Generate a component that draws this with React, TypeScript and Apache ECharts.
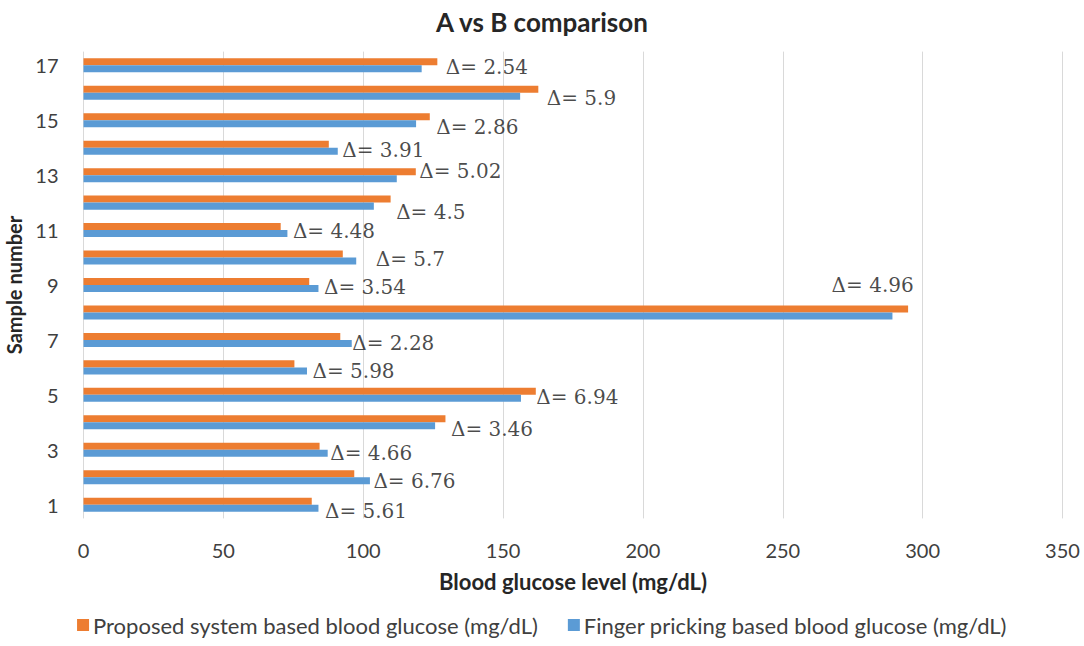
import React, { useEffect, useRef } from "react";
import * as echarts from "echarts";

// Sample numbers 1..17 (bottom to top on the category axis)
const samples = ["1", "2", "3", "4", "5", "6", "7", "8", "9", "10", "11", "12", "13", "14", "15", "16", "17"];

// Proposed system readings (mg/dL)
const proposed = [81.6, 96.8, 84.4, 129.4, 161.7, 75.4, 91.8, 294.8, 80.7, 92.7, 70.5, 109.8, 118.8, 87.7, 123.8, 162.6, 126.5];

// Finger pricking readings (mg/dL)
const finger = [84.0, 102.4, 87.3, 125.7, 156.4, 79.9, 95.9, 289.2, 84.0, 97.5, 72.9, 103.8, 112.0, 90.9, 118.9, 156.1, 120.9];

// Per-sample difference annotations
const deltas = ["5.61", "6.76", "4.66", "3.46", "6.94", "5.98", "2.28", "4.96", "3.54", "5.7", "4.48", "4.5", "5.02", "3.91", "2.86", "5.9", "2.54"];

// Value axis ticks
const xTicks = [0, 50, 100, 150, 200, 250, 300, 350];

// Small pixel nudges for each annotation [dx, dy]
const labelNudge: [number, number][] = [
  [1, 6], [-2, 4], [-3, 3], [0, 7], [-5, 2], [0, 4], [-5, 3], [-82, -27], [0, 2],
  [14, 1], [0, 1], [0, 9], [-2, -4], [-1, 2], [1, 7], [3, 5], [3, 2],
];

const ORANGE = "#ED7D31";
const BLUE = "#5B9BD5";
const SANS = "Lato, 'Open Sans', sans-serif";

export default function App() {
  const ref = useRef<HTMLDivElement>(null);

  useEffect(() => {
    if (!ref.current) return;
    const chart = echarts.init(ref.current, undefined, { renderer: "svg" });

    const annotations = samples.map((_, i) => ({
      value: [Math.max(proposed[i], finger[i]), i],
      label: { offset: labelNudge[i] },
    }));

    chart.setOption({
      animation: false,
      backgroundColor: "#ffffff",
      title: {
        text: "A vs B comparison",
        left: "center",
        top: 4,
        textStyle: { fontFamily: SANS, fontSize: 26, fontWeight: "bold", color: "#262626" },
      },
      legend: {
        data: [
          "Proposed system based blood glucose (mg/dL)",
          "Finger pricking based blood glucose (mg/dL)",
        ],
        left: "center",
        bottom: 5,
        icon: "rect",
        itemWidth: 12,
        itemHeight: 12,
        itemGap: 30,
        textStyle: { fontFamily: SANS, fontSize: 22, color: "#404040", padding: [0, 0, 0, -1] },
      },
      grid: {
        left: 83.5,
        right: 21.5,
        top: 51.6,
        bottom: 127.6,
        containLabel: false,
        outerBoundsMode: "none",
      },
      xAxis: {
        type: "value",
        min: xTicks[0],
        max: xTicks[xTicks.length - 1],
        interval: 50,
        name: "Blood glucose level (mg/dL)",
        nameLocation: "middle",
        nameGap: 52,
        nameTextStyle: { fontFamily: SANS, fontSize: 22, fontWeight: "bold", color: "#262626" },
        axisLine: { show: false },
        axisTick: { show: false },
        axisLabel: { fontFamily: SANS, fontSize: 20, color: "#404040", margin: 22 },
        splitLine: { show: true, lineStyle: { color: "#d9d9d9", width: 1 } },
      },
      yAxis: {
        type: "category",
        data: samples,
        name: "Sample number",
        nameLocation: "middle",
        nameGap: 49,
        nameTextStyle: { fontFamily: SANS, fontSize: 20, fontWeight: "bold", color: "#262626" },
        axisLine: { show: false },
        axisTick: { show: false },
        axisLabel: { interval: 1, fontFamily: SANS, fontSize: 20, color: "#404040", margin: 25 },
        splitLine: { show: false },
      },
      series: [
        {
          name: "Proposed system based blood glucose (mg/dL)",
          type: "bar",
          data: proposed,
          itemStyle: { color: ORANGE },
          barGap: "0%",
          barCategoryGap: "49%",
        },
        {
          name: "Finger pricking based blood glucose (mg/dL)",
          type: "bar",
          data: finger,
          itemStyle: { color: BLUE },
          barGap: "0%",
          barCategoryGap: "49%",
        },
        {
          name: "annotations",
          type: "scatter",
          data: annotations,
          symbolSize: 1,
          itemStyle: { color: "rgba(0,0,0,0)" },
          silent: true,
          z: 5,
          label: {
            show: true,
            position: "right",
            distance: 5,
            formatter: (p: any) => "Δ= " + deltas[p.dataIndex],
            fontFamily: "'DejaVu Serif', 'Liberation Serif', serif",
            fontSize: 20,
            color: "#1a1a1a",
          },
        },
      ],
    });

    return () => chart.dispose();
  }, []);

  return (
    <div
      ref={ref}
      style={{ position: "fixed", left: 0, top: 0, width: 1084, height: 646, background: "#fff" }}
    />
  );
}
